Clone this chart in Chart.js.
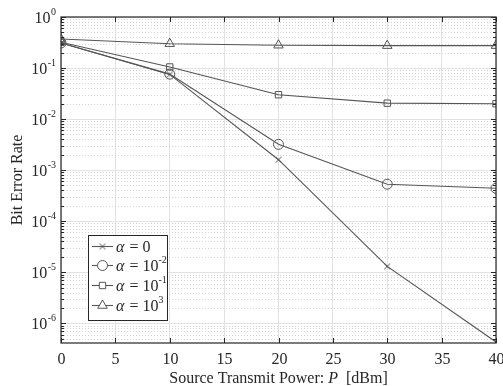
<!DOCTYPE html>
<html>
<head>
<meta charset="utf-8">
<script src="https://cdn.jsdelivr.net/npm/chart.js@4.4.1/dist/chart.umd.min.js"></script>
<style>
  html, body { margin: 0; padding: 0; background: #fff; }
  #wrap { width: 503px; height: 386px; position: relative; }
</style>
</head>
<body>
<div id="wrap"><canvas id="berChart"></canvas></div>
<script>
// power levels in dBm
const powerLevels = [0, 10, 20, 30, 40];

// bit error rate per alpha
const berAlpha0 = [0.31, 0.075, 1.6e-3, 1.3e-5, 4.3e-7];
const berAlpha1e2 = [0.31, 0.076, 3.2e-3, 5.3e-4, 4.4e-4];
const berAlpha1e1 = [0.32, 0.105, 0.030, 0.0205, 0.020];
const berAlpha1e3 = [0.37, 0.30, 0.28, 0.275, 0.275];

const seriesNames = [['0', ''], ['10', '-2'], ['10', '-1'], ['10', '3']];
const xTicks = [0, 5, 10, 15, 20, 25, 30, 35, 40];
const yDecades = [-6, -5, -4, -3, -2, -1, 0];

const lineColor = '#555555';
const axisColor = '#262626';
const serif = "'Liberation Serif', 'Times New Roman', serif";

function toPoints(vals) {
    return powerLevels.map((p, i) => ({ x: p, y: vals[i] }));
}

// cross marker drawn as an image so it looks like matlab's 'x'
function crossMarker(size) {
    const c = document.createElement('canvas');
    c.width = size; c.height = size;
    const g = c.getContext('2d');
    g.strokeStyle = lineColor;
    g.lineWidth = 1;
    g.beginPath();
    g.moveTo(1, 1); g.lineTo(size - 1, size - 1);
    g.moveTo(size - 1, 1); g.lineTo(1, size - 1);
    g.stroke();
    return c;
}
const xMark = crossMarker(8);

const markerStyles = [xMark, 'circle', 'rect', 'triangle'];
const markerRadius = [4, 5, 4.5, 5.5];

const datasets = [berAlpha0, berAlpha1e2, berAlpha1e1, berAlpha1e3].map((vals, i) => ({
    label: 'alpha ' + seriesNames[i].join('^'),
    data: toPoints(vals),
    borderColor: lineColor,
    borderWidth: 1.1,
    pointStyle: markerStyles[i],
    pointRadius: markerRadius[i],
    pointBorderColor: lineColor,
    pointBackgroundColor: 'rgba(0,0,0,0)',
    pointBorderWidth: 1,
    tension: 0
}));

const isDecade = v => Math.abs(Math.log10(v) - Math.round(Math.log10(v))) < 1e-9;

// dotted minor grid, inward ticks, custom labels and legend
const matlabAxes = {
    id: 'matlabAxes',
    beforeDatasetsDraw(chart) {
        const { ctx, chartArea: a, scales: { y } } = chart;
        ctx.save();
        ctx.strokeStyle = '#d4d4d4';
        ctx.lineWidth = 1;
        ctx.setLineDash([1, 2]);
        for (let d = -7; d < 0; d++) {
            for (let m = 2; m <= 9; m++) {
                const v = m * Math.pow(10, d);
                const py = y.getPixelForValue(v);
                if (py < a.top || py > a.bottom) continue;
                ctx.beginPath();
                ctx.moveTo(a.left, Math.round(py) + 0.5);
                ctx.lineTo(a.right, Math.round(py) + 0.5);
                ctx.stroke();
            }
        }
        ctx.restore();
    },
    afterDraw(chart) {
        const { ctx, chartArea: a, scales: { x, y } } = chart;
        ctx.save();
        // frame
        ctx.strokeStyle = axisColor;
        ctx.lineWidth = 1.2;
        ctx.strokeRect(a.left, a.top, a.right - a.left, a.bottom - a.top);

        // x ticks (inward, top and bottom) + labels
        ctx.lineWidth = 1;
        ctx.fillStyle = axisColor;
        ctx.font = '16px ' + serif;
        ctx.textAlign = 'center';
        ctx.textBaseline = 'alphabetic';
        xTicks.forEach(t => {
            const px = Math.round(x.getPixelForValue(t)) + 0.5;
            ctx.beginPath();
            ctx.moveTo(px, a.bottom); ctx.lineTo(px, a.bottom - 5);
            ctx.moveTo(px, a.top); ctx.lineTo(px, a.top + 5);
            ctx.stroke();
            ctx.fillText(String(t), px, a.bottom + 21);
        });
        // y ticks, major and minor
        for (let d = -7; d <= 0; d++) {
            for (let m = 1; m <= 9; m++) {
                const v = m * Math.pow(10, d);
                const py = y.getPixelForValue(v);
                if (py < a.top - 0.5 || py > a.bottom + 0.5) continue;
                const len = m === 1 ? 5 : 3;
                const yy = Math.round(py) + 0.5;
                ctx.beginPath();
                ctx.moveTo(a.left, yy); ctx.lineTo(a.left + len, yy);
                ctx.moveTo(a.right, yy); ctx.lineTo(a.right - len, yy);
                ctx.stroke();
            }
        }

        // y tick labels with superscripts
        yDecades.forEach(d => {
            const py = y.getPixelForValue(Math.pow(10, d));
            const exp = String(d);
            ctx.font = '10px ' + serif;
            const ew = ctx.measureText(exp).width;
            ctx.textAlign = 'left';
            const ex = a.left - 5 - ew;
            ctx.fillText(exp, ex, py - 2);
            ctx.font = '16px ' + serif;
            ctx.textAlign = 'right';
            ctx.fillText('10', ex - 0.5, py + 6);
        });

        // y axis title
        ctx.save();
        ctx.translate(18, (a.top + a.bottom) / 2);
        ctx.rotate(-Math.PI / 2);
        ctx.font = '16px ' + serif;
        ctx.textAlign = 'center';
        ctx.textBaseline = 'middle';
        ctx.fillText('Bit Error Rate', 0, 0);
        ctx.restore();

        // x axis title with italic P
        const parts = [
            ['Source Transmit Power: ', '16px ' + serif],
            ['P', 'italic 16px ' + serif],
            ['  [dBm]', '16px ' + serif]
        ];
        let total = 0;
        parts.forEach(p => { ctx.font = p[1]; total += ctx.measureText(p[0]).width; });
        let cx = (a.left + a.right) / 2 - total / 2;
        ctx.textAlign = 'left';
        ctx.textBaseline = 'alphabetic';
        parts.forEach(p => {
            ctx.font = p[1];
            ctx.fillText(p[0], cx, 383);
            cx += ctx.measureText(p[0]).width;
        });

        // legend
        const lx = 88, ly = 235, lw = 79, lh = 85;
        ctx.fillStyle = '#fff';
        ctx.fillRect(lx, ly, lw, lh);
        ctx.strokeStyle = axisColor;
        ctx.lineWidth = 1;
        ctx.strokeRect(lx + 0.5, ly + 0.5, lw, lh);
        const rowY = [246, 265, 285, 305];
        chart.data.datasets.forEach((ds, i) => {
            const ry = rowY[i] + 0.5;
            ctx.strokeStyle = lineColor;
            ctx.lineWidth = 1.1;
            ctx.beginPath();
            ctx.moveTo(lx + 4, ry); ctx.lineTo(lx + 25, ry);
            ctx.stroke();
            ctx.fillStyle = '#fff';
            ctx.lineWidth = 1;
            Chart.helpers.drawPoint(ctx, {
                pointStyle: ds.pointStyle,
                radius: ds.pointRadius,
                borderWidth: 1,
                rotation: 0
            }, lx + 14.5, ry);

            ctx.fillStyle = axisColor;
            let tx = lx + 28;
            ctx.font = 'italic 16px ' + serif;
            ctx.textAlign = 'left';
            ctx.fillText('\u03b1', tx, ry + 5);
            tx += ctx.measureText('\u03b1').width + 1;
            ctx.font = '16px ' + serif;
            ctx.fillText(' = ' + seriesNames[i][0], tx, ry + 5);
            tx += ctx.measureText(' = ' + seriesNames[i][0]).width;
            if (seriesNames[i][1]) {
                ctx.font = '10px ' + serif;
                ctx.fillText(seriesNames[i][1], tx, ry - 3);
            }
        });
        ctx.restore();
    }
};

Chart.defaults.font.family = serif;
Chart.defaults.color = axisColor;

new Chart(document.getElementById('berChart').getContext('2d'), {
    type: 'line',
    data: { datasets: datasets },
    options: {
        responsive: true,
        maintainAspectRatio: false,
        animation: false,
        layout: { padding: { top: 17, right: 7, left: 0, bottom: 0 } },
        plugins: {
            legend: { display: false },
            tooltip: { enabled: false }
        },
        scales: {
            x: {
                type: 'linear',
                min: 0,
                max: 40,
                afterBuildTicks: s => { s.ticks = xTicks.map(v => ({ value: v })); },
                ticks: { display: false },
                grid: { color: '#e2e2e2', drawTicks: false },
                border: { display: false },
                afterFit: s => { s.height = 43; }
            },
            y: {
                type: 'logarithmic',
                min: 4.1e-7,
                max: 1,
                ticks: { display: false },
                grid: {
                    drawTicks: false,
                    color: c => (c.tick && isDecade(c.tick.value)) ? '#e2e2e2' : 'rgba(0,0,0,0)'
                },
                border: { display: false },
                afterFit: s => { s.width = 61; }
            }
        }
    },
    plugins: [matlabAxes]
});
</script>
</body>
</html>
